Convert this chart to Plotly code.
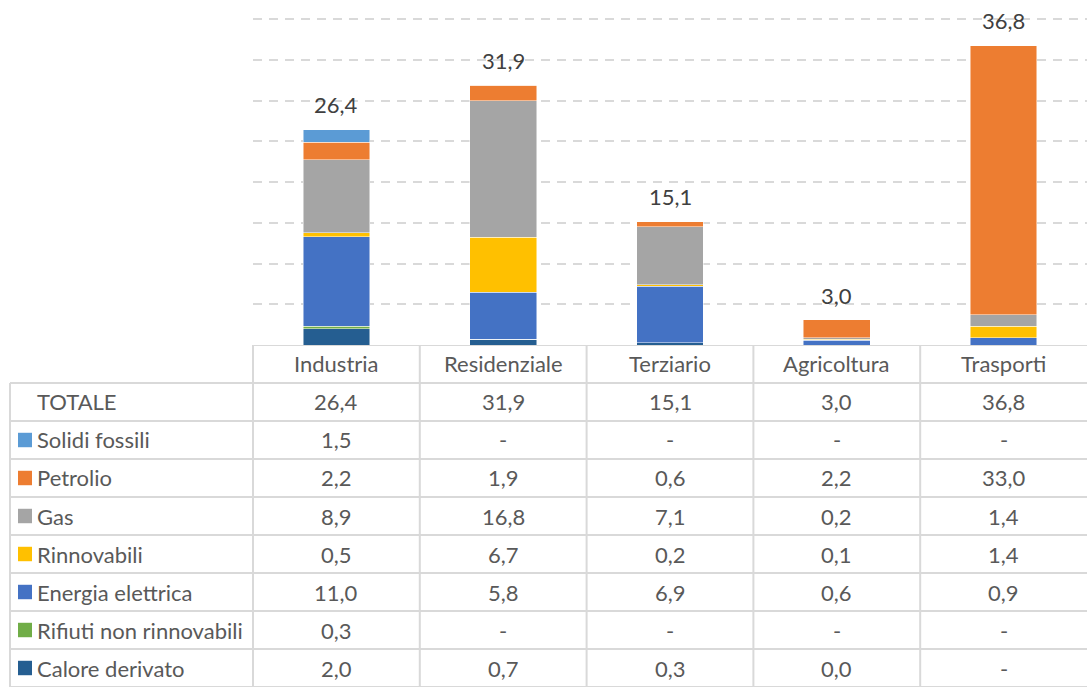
import plotly.graph_objects as go

# Final energy consumption by sector and source
categories = ["Industria", "Residenziale", "Terziario", "Agricoltura", "Trasporti"]
totale = [26.4, 31.9, 15.1, 3.0, 36.8]

series_names = ["Solidi fossili", "Petrolio", "Gas", "Rinnovabili",
                "Energia elettrica", "Rifiuti non rinnovabili", "Calore derivato"]
solidi_fossili = [1.5, None, None, None, None]
petrolio = [2.2, 1.9, 0.6, 2.2, 33.0]
gas = [8.9, 16.8, 7.1, 0.2, 1.4]
rinnovabili = [0.5, 6.7, 0.2, 0.1, 1.4]
energia_elettrica = [11.0, 5.8, 6.9, 0.6, 0.9]
rifiuti_non_rinnovabili = [0.3, None, None, None, None]
calore_derivato = [2.0, 0.7, 0.3, 0.0, None]

series_values = [solidi_fossili, petrolio, gas, rinnovabili,
                 energia_elettrica, rifiuti_non_rinnovabili, calore_derivato]
series_colors = ["#5B9BD5", "#ED7D31", "#A5A5A5", "#FFC000",
                 "#4472C4", "#70AD47", "#255E91"]

W, H = 1087, 687
FONT = "Lato"
FS = 22
TEXT = "#595959"
GRID = "#D9D9D9"

x_left_table = 10 / W
x_plot = 253 / W
px_per_unit = (345 - 19) / 40.0
y_max = 40.4
chart_bottom = (H - 345) / H
chart_top = (H - (345 - y_max * px_per_unit)) / H


def fmt(v):
    return "-" if v is None else f"{v:.1f}".replace(".", ",")


fig = go.Figure()

# stacked bars, bottom segment first
for name, vals, col in reversed(list(zip(series_names, series_values, series_colors))):
    fig.add_trace(go.Bar(
        x=categories, y=[0 if v is None else v for v in vals], name=name,
        marker=dict(color=col, line=dict(color="rgba(255,255,255,0.6)", width=0.8)),
        width=0.4, showlegend=False, hoverinfo="x+y+name",
    ))

annotations = []
shapes = []

# totals above bars
for c, t in zip(categories, totale):
    annotations.append(dict(x=c, y=t, xref="x", yref="y", text=fmt(t),
                            showarrow=False, yanchor="middle", yshift=25,
                            font=dict(family=FONT, size=FS, color="#404040")))

# data table below the chart
n_rows = 2 + len(series_names)
row_labels = ["TOTALE"] + series_names
row_values = [totale] + series_values

for c in categories:
    annotations.append(dict(x=c, y=0.5, xref="x", yref="y2", text=c, showarrow=False,
                            font=dict(family=FONT, size=FS, color=TEXT)))

for r, (lab, vals) in enumerate(zip(row_labels, row_values)):
    yr = r + 1.5
    annotations.append(dict(x=35 / W, y=yr, xref="paper", yref="y2", text=lab,
                            showarrow=False, xanchor="left",
                            font=dict(family=FONT, size=FS, color=TEXT)))
    for c, v in zip(categories, vals):
        annotations.append(dict(x=c, y=yr, xref="x", yref="y2", text=fmt(v),
                                showarrow=False,
                                font=dict(family=FONT, size=FS, color=TEXT)))

# legend keys in the row labels
for r, col in enumerate(series_colors):
    yr = r + 2.5
    shapes.append(dict(type="rect", xref="paper", yref="y2",
                       x0=18 / W, x1=32 / W, y0=yr - 0.19, y1=yr + 0.19,
                       fillcolor=col, line=dict(width=0)))

# table grid lines
line = dict(color=GRID, width=2)
shapes.append(dict(type="line", xref="paper", yref="y2", x0=x_plot, x1=1, y0=0, y1=0, line=line))
for r in range(1, n_rows + 1):
    shapes.append(dict(type="line", xref="paper", yref="y2", x0=x_left_table, x1=1,
                       y0=r, y1=r, line=line))
shapes.append(dict(type="line", xref="paper", yref="y2", x0=x_plot, x1=x_plot,
                   y0=0, y1=n_rows, line=line))
shapes.append(dict(type="line", xref="paper", yref="y2", x0=x_left_table, x1=x_left_table,
                   y0=1, y1=n_rows, line=line))
for k in range(1, len(categories)):
    shapes.append(dict(type="line", xref="x", yref="y2", x0=k - 0.5, x1=k - 0.5,
                       y0=0, y1=n_rows, line=line))

fig.update_layout(
    width=W, height=H, margin=dict(l=0, r=0, t=0, b=0),
    paper_bgcolor="white", plot_bgcolor="white",
    barmode="stack", bargap=0.6,
    xaxis=dict(domain=[x_plot, 1], range=[-0.5, 4.5], showticklabels=False,
               showgrid=False, zeroline=False, showline=False, fixedrange=True),
    yaxis=dict(domain=[chart_bottom, chart_top], range=[0, y_max], dtick=5,
               showticklabels=False, showgrid=True, gridcolor=GRID, gridwidth=1.5,
               griddash="9px,7px", zeroline=False, showline=False),
    xaxis2=dict(domain=[x_plot, 1], range=[-0.5, 4.5], visible=False, anchor="y2",
                matches="x"),
    yaxis2=dict(domain=[0, chart_bottom], range=[n_rows, 0], visible=False, anchor="x2"),
    annotations=annotations, shapes=shapes,
)

fig.write_html("out.html")
